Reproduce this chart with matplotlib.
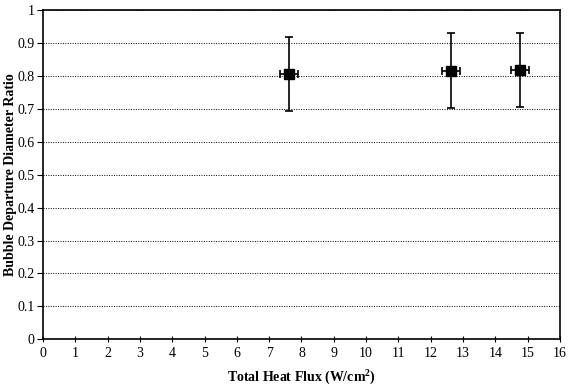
import matplotlib
matplotlib.use('Agg')
import matplotlib.pyplot as plt
import numpy as np

# data
heat_flux = [7.62, 12.62, 14.76]
ratio = [0.806, 0.816, 0.819]
ratio_lo = [0.693, 0.703, 0.704]
ratio_hi = [0.917, 0.929, 0.931]
flux_err = [0.27, 0.27, 0.27]

plt.rcParams['font.family'] = ['Liberation Serif', 'DejaVu Serif']
plt.rcParams['mathtext.fontset'] = 'custom'
plt.rcParams['mathtext.rm'] = 'Liberation Serif'
plt.rcParams['mathtext.bf'] = 'Liberation Serif:bold'

fig = plt.figure(figsize=(5.68, 3.88), dpi=100)
ax = fig.add_axes([0.0757, 0.1255, 0.9102, 0.8487])

yerr = [np.array(ratio) - np.array(ratio_lo), np.array(ratio_hi) - np.array(ratio)]
ax.errorbar(heat_flux, ratio, yerr=yerr, xerr=flux_err, fmt='s', color='black',
            ms=7, ecolor='black', elinewidth=1.2, capsize=3, capthick=1.2, zorder=3)

ax.set_xlim(0, 16)
ax.set_ylim(0, 1)
ax.set_xticks(range(0, 17))
ax.set_yticks(np.round(np.arange(0, 1.01, 0.1), 1))
ax.set_yticklabels(['0'] + [f'{v:.1f}' for v in np.arange(0.1, 0.95, 0.1)] + ['1'])
ax.yaxis.grid(True, linestyle=(0, (1, 1.5)), color='black', lw=0.7)
ax.set_axisbelow(True)

ax.tick_params(axis='x', direction='inout', length=5, labelsize=10, pad=3)
ax.tick_params(axis='y', direction='out', length=4, labelsize=10, pad=2)
for s in ax.spines.values():
    s.set_linewidth(1.2)

ax.set_xlabel('Total Heat Flux (W/cm$^{\\mathbf{2}}$)', fontsize=10, fontweight='bold')
ax.xaxis.set_label_coords(0.5, -0.085)
ax.set_ylabel('Bubble Departure Diameter Ratio', fontsize=10, fontweight='bold')
ax.yaxis.set_label_coords(-0.062, 0.5)
ax.yaxis.label.set_va('center')

fig.savefig('out.png', dpi=100, facecolor='white')
